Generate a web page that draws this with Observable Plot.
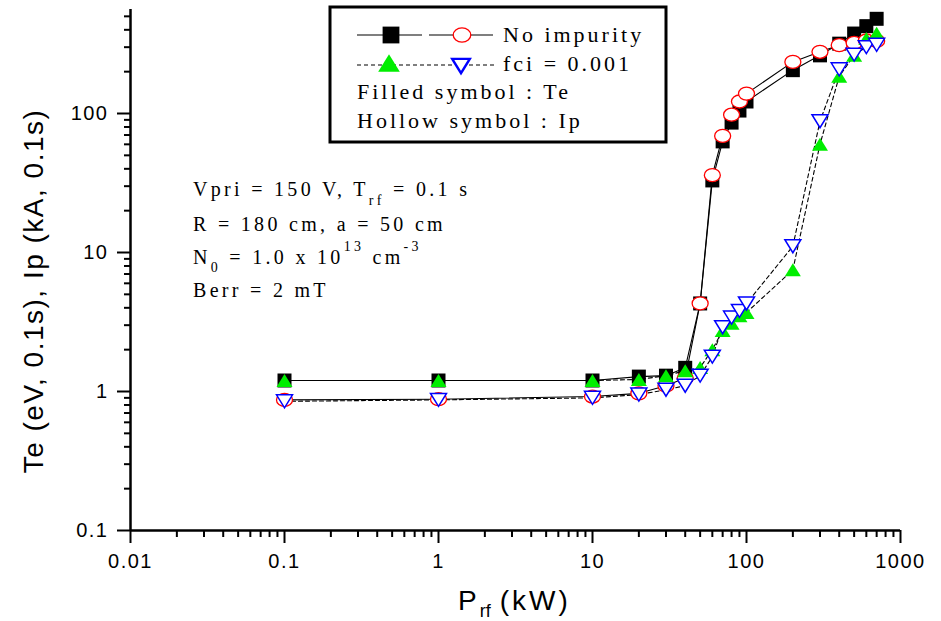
<!DOCTYPE html>
<html><head><meta charset="utf-8">
<script src="https://cdn.jsdelivr.net/npm/d3@7"></script>
<script src="https://cdn.jsdelivr.net/npm/@observablehq/plot@0.6"></script>
<style>
html,body{margin:0;padding:0;background:#fff;}
#chart{width:941px;height:621px;}
</style></head><body><div id="chart"></div>
<script>
// RF power (kW)
const prf = [0.1, 1, 10, 20, 30, 40, 50, 60, 70, 80, 90, 100, 200, 300, 400, 500, 600, 700];
// No impurity
const teNoImp = [1.2, 1.2, 1.2, 1.28, 1.3, 1.48, 4.3, 33, 63, 86, 105, 122, 205, 262, 318, 376, 425, 480];
const ipNoImp = [0.87, 0.88, 0.92, 0.97, 1.1, 1.25, 4.3, 36, 69, 98, 122, 139, 235, 278, 310, 322, 335, 333];
// fci = 0.001
const teFci = [1.2, 1.2, 1.2, 1.22, 1.3, 1.41, 1.49, 2.0, 2.75, 3.1, 3.5, 3.7, 7.5, 60, 185, 262, 347, 378];
const ipFci = [0.85, 0.87, 0.9, 0.95, 1.03, 1.1, 1.3, 1.78, 2.9, 3.4, 3.8, 4.3, 11.1, 88, 208, 265, 300, 312];

const xTicks = [0.01, 0.1, 1, 10, 100, 1000];
const xTickLabels = ["0.01", "0.1", "1", "10", "100", "1000"];
const yTicks = [0.1, 1, 10, 100];
const yTickLabels = ["0.1", "1", "10", "100"];
const minorMultipliers = [2, 3, 4, 5, 6, 7, 8, 9];

const xMinor = [0.01, 0.1, 1, 10, 100].flatMap(d => minorMultipliers.map(m => d * m));
const yMinor = [0.1, 1, 10, 100].flatMap(d => minorMultipliers.map(m => d * m)).filter(v => v <= 560);

const rows = arr => prf.map((p, i) => ({P: p, v: arr[i]}));

// custom symbols
const squareSym = {draw(c){ const h = 7; c.moveTo(-h,-h); c.lineTo(h,-h); c.lineTo(h,h); c.lineTo(-h,h); c.closePath(); }};
const ellipseSym = {draw(c){ const rx = 8, ry = 6.5, k = 0.5523;
  c.moveTo(rx,0);
  c.bezierCurveTo(rx, ry*k, rx*k, ry, 0, ry);
  c.bezierCurveTo(-rx*k, ry, -rx, ry*k, -rx, 0);
  c.bezierCurveTo(-rx, -ry*k, -rx*k, -ry, 0, -ry);
  c.bezierCurveTo(rx*k, -ry, rx, -ry*k, rx, 0);
  c.closePath(); }};
const triUpSym = {draw(c){ const w = 8, h = 6.5; c.moveTo(0,-h); c.lineTo(w,h); c.lineTo(-w,h); c.closePath(); }};
const triDownSym = {draw(c){ const w = 8, h = 6.5; c.moveTo(-w,-h); c.lineTo(w,-h); c.lineTo(0,h); c.closePath(); }};

const tickFmt = (ticks, labels) => d => labels[ticks.indexOf(d)];

const chart = Plot.plot({
  width: 941, height: 621,
  marginLeft: 130, marginRight: 41, marginTop: 9, marginBottom: 91,
  x: {type: "log", domain: [0.01, 1000], label: null},
  y: {type: "log", domain: [0.1, 560], label: null},
  style: {fontFamily: "'Liberation Sans', Arial, sans-serif", fontSize: "20px", background: "white", color: "black"},
  marks: [
    Plot.axisX(xMinor, {tickSize: 7, strokeWidth: 2, fill: "none", label: null}),
    Plot.axisX(xTicks, {tickSize: 13, tickPadding: 10, strokeWidth: 2, fontSize: 20, tickFormat: tickFmt(xTicks, xTickLabels), label: null}),
    Plot.axisY(yMinor, {tickSize: 6, strokeWidth: 2, fill: "none", label: null}),
    Plot.axisY(yTicks, {tickSize: 13, tickPadding: 9, strokeWidth: 2, fontSize: 20, tickFormat: tickFmt(yTicks, yTickLabels), label: null}),
    Plot.ruleX([0.01], {strokeWidth: 2.5}),
    Plot.ruleY([0.1], {strokeWidth: 2.5}),
    Plot.line(rows(teNoImp), {x: "P", y: "v", stroke: "black", strokeWidth: 1.1}),
    Plot.line(rows(ipNoImp), {x: "P", y: "v", stroke: "black", strokeWidth: 1.1}),
    Plot.line(rows(teFci), {x: "P", y: "v", stroke: "black", strokeWidth: 1.1, strokeDasharray: "4,3"}),
    Plot.line(rows(ipFci), {x: "P", y: "v", stroke: "black", strokeWidth: 1.1, strokeDasharray: "4,3"}),
    Plot.dot(rows(teNoImp), {x: "P", y: "v", r: 7, symbol: squareSym, fill: "black", stroke: "none"}),
    Plot.dot(rows(ipNoImp), {x: "P", y: "v", r: 7, symbol: ellipseSym, fill: "white", stroke: "#ff0000", strokeWidth: 1.3}),
    Plot.dot(rows(teFci), {x: "P", y: "v", r: 7, symbol: triUpSym, fill: "#00ee00", stroke: "none"}),
    Plot.dot(rows(ipFci), {x: "P", y: "v", r: 7, symbol: triDownSym, fill: "white", stroke: "#0000ff", strokeWidth: 1.5})
  ]
});
document.getElementById("chart").appendChild(chart);

const svg = d3.select(chart);
svg.selectAll('g[aria-label="x-axis tick label"] text, g[aria-label="y-axis tick label"] text').attr("letter-spacing", 1.5);

const serif = "'Liberation Serif', 'Times New Roman', serif";
const sans = "'Liberation Sans', Arial, sans-serif";

// Y axis title
svg.append("text")
  .attr("transform", "translate(43,291) rotate(-90)")
  .attr("text-anchor", "middle")
  .attr("font-family", sans).attr("font-size", 28).attr("letter-spacing", 1.5)
  .attr("fill", "black")
  .text("Te (eV, 0.1s), Ip (kA, 0.1s)");

// X axis title
const xt = svg.append("text").attr("x", 458).attr("y", 610).attr("text-anchor", "start")
  .attr("font-family", sans).attr("font-size", 28).attr("fill", "black");
xt.append("tspan").text("P");
xt.append("tspan").attr("font-size", 18).attr("dx", 3).attr("dy", 7).text("rf");
xt.append("tspan").attr("dy", -7).attr("dx", 9).attr("letter-spacing", 3).text("(kW)");

// Annotation
const ann = svg.append("g").attr("font-family", serif).attr("font-size", 20).attr("letter-spacing", 3.3)
  .attr("fill", "black").attr("text-anchor", "start");
const l1 = ann.append("text").attr("x", 193).attr("y", 196);
l1.append("tspan").text("Vpri = 150 V, T");
l1.append("tspan").attr("font-size", 14).attr("dy", 9).text("rf");
l1.append("tspan").attr("dy", -9).text(" = 0.1 s");
ann.append("text").attr("x", 193).attr("y", 231).text("R = 180 cm, a = 50 cm");
const l3 = ann.append("text").attr("x", 193).attr("y", 264);
l3.append("tspan").text("N");
l3.append("tspan").attr("font-size", 14).attr("dy", 8).text("0");
l3.append("tspan").attr("dy", -8).text(" = 1.0 x 10");
l3.append("tspan").attr("font-size", 14).attr("dy", -13).text("13");
l3.append("tspan").attr("dy", 13).text(" cm");
l3.append("tspan").attr("font-size", 14).attr("dy", -13).text("-3");
ann.append("text").attr("x", 193).attr("y", 297).text("Berr = 2 mT");

// Legend
const lg = svg.append("g");
lg.append("rect").attr("x", 330).attr("y", 7).attr("width", 336).attr("height", 135)
  .attr("fill", "white").attr("stroke", "black").attr("stroke-width", 3);
lg.append("line").attr("x1", 357).attr("x2", 422).attr("y1", 35).attr("y2", 35).attr("stroke", "black").attr("stroke-width", 1.1);
lg.append("line").attr("x1", 429).attr("x2", 493).attr("y1", 35).attr("y2", 35).attr("stroke", "black").attr("stroke-width", 1.1);
lg.append("line").attr("x1", 357).attr("x2", 497).attr("y1", 65).attr("y2", 65).attr("stroke", "black").attr("stroke-width", 1.1).attr("stroke-dasharray", "4,3");
const symPath = s => d3.symbol(s, 64)();
lg.append("path").attr("d", symPath(squareSym)).attr("transform", "translate(391,35) scale(1.2)").attr("fill", "black");
lg.append("path").attr("d", symPath(ellipseSym)).attr("transform", "translate(462,35) scale(1.1)").attr("fill", "white").attr("stroke", "#ff0000").attr("stroke-width", 1.2);
lg.append("path").attr("d", symPath(triUpSym)).attr("transform", "translate(389,63) scale(1.35)").attr("fill", "#00ee00");
lg.append("path").attr("d", symPath(triDownSym)).attr("transform", "translate(461,66) scale(1.1)").attr("fill", "white").attr("stroke", "#0000ff").attr("stroke-width", 2.2);
const lt = lg.append("g").attr("font-family", serif).attr("font-size", 22).attr("letter-spacing", 3)
  .attr("fill", "black").attr("text-anchor", "start");
lt.append("text").attr("x", 503).attr("y", 42).text("No impurity");
lt.append("text").attr("x", 503).attr("y", 71).text("fci = 0.001");
lt.append("text").attr("x", 357).attr("y", 99).text("Filled symbol : Te");
lt.append("text").attr("x", 357).attr("y", 128).text("Hollow symbol : Ip");
</script>
</body></html>
